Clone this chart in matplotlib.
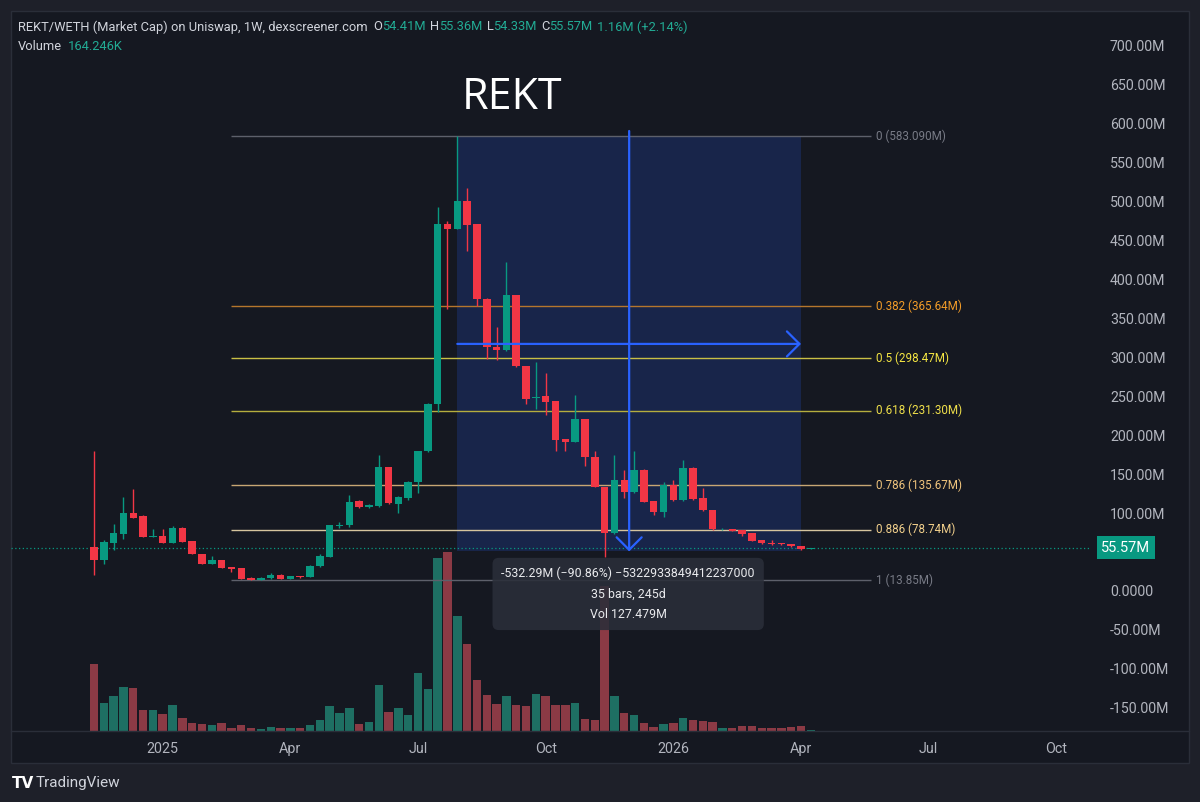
import matplotlib
matplotlib.use("Agg")
import matplotlib.pyplot as plt
import numpy as np
import pandas as pd
from matplotlib.patches import Rectangle
from matplotlib.lines import Line2D
from matplotlib.transforms import blended_transform_factory

plt.rcParams["font.family"] = ["Roboto", "DejaVu Sans"]

# weekly bars, first bar on this Monday
start_date = "2024-11-18"

opens = [57, 40, 62, 73, 99.5, 96, 69, 71, 62, 81, 64, 47, 34, 39.5, 31, 29, 16.7, 14.6, 16.3, 21,
         15.4, 19, 18, 32, 44, 84, 84.4, 115, 108, 109, 158.6, 112, 119, 140, 179, 240, 471, 464.5, 500, 471,
         375, 313.6, 309, 380, 288, 247, 250, 244, 194.6, 191.5, 220.7, 171.5, 133.7, 73.8, 142.3, 126.5, 155, 115, 101.5, 136,
         116.6, 158, 118.8, 103.7, 78.9, 79.7, 78, 74, 65, 62, 61, 60, 58, 54.41]
highs = [180, 65, 86, 120, 131, 97, 80, 80, 84, 82, 64, 47, 44.6, 40, 31, 29, 18, 18, 23, 22,
         19.5, 19.5, 33, 47, 85, 88, 123, 117, 112, 174, 159, 122, 141, 180, 241, 493, 474, 583.09, 517, 471,
         376, 339, 422, 380, 288, 294, 279, 244, 195, 251.5, 221, 180, 134, 174.4, 155, 180, 156, 116, 140, 143,
         168, 159, 131.6, 104, 80.5, 80, 78, 74, 65.5, 66, 62, 60.5, 58, 55.36]
lows = [21, 34, 52, 67, 93, 69, 69, 61, 62, 63, 47, 34, 34, 30, 24, 15, 13.85, 14, 16, 15,
        15, 17, 18, 31, 43, 81, 81.5, 107, 107, 108, 111, 99.5, 117, 126, 178, 229, 362, 464, 436, 365,
        297, 296.5, 308, 287, 240, 234, 226, 180, 179, 191, 160, 133, 43.7, 73, 118.8, 126, 114, 97, 95, 116,
        116, 117, 103, 78, 78.5, 76.5, 70.7, 64, 60.5, 59.5, 59, 57, 53, 54.33]
closes = [40, 63, 74, 99.5, 94, 69.4, 71, 62, 81, 63, 47, 34, 39.5, 30, 28, 16, 14.6, 17, 20.6, 16,
          19, 17.6, 32.6, 44.6, 84.4, 85, 114.4, 108, 110, 158.6, 112.3, 120, 140, 179.6, 240, 471, 464.5, 500, 470, 374,
          313.6, 309.4, 380, 288, 246, 249.4, 243, 194, 191.5, 220.7, 171.5, 133.7, 73.8, 142.3, 126.5, 155, 114.4, 101.5, 135.8, 116.6,
          158, 117.5, 103.7, 78.9, 79.5, 77, 73, 64.3, 61, 60, 60, 57.4, 54, 55.57]
volumes = [9.62, 4.05, 4.96, 6.29, 6.19, 2.96, 3.05, 2.39, 3.68, 1.86, 1.19, 0.96, 0.90, 1.19, 0.47, 0.82, 0.47, 0.24, 0.57, 0.39,
           0.47, 0.39, 0.82, 1.57, 3.58, 2.62, 3.33, 1.04, 1.24, 6.58, 2.76, 3.33, 2.25, 8.25, 6.01, 24.8, 25.6, 16.5, 12.4, 7.25,
           5.19, 3.86, 4.96, 3.76, 3.58, 5.29, 4.96, 3.72, 3.72, 3.96, 1.76, 1.53, 20.8, 5.0, 2.62, 2.33, 1.19, 0.61, 1.04, 1.14,
           1.82, 1.62, 1.43, 1.33, 0.47, 0.39, 0.67, 0.72, 0.47, 0.39, 0.39, 0.53, 0.72, 0.164]

fib_prices = [583.09, 365.64, 298.47, 231.30, 135.67, 78.74, 13.85]
fib_labels = ["0 (583.090M)", "0.382 (365.64M)", "0.5 (298.47M)", "0.618 (231.30M)",
              "0.786 (135.67M)", "0.886 (78.74M)", "1 (13.85M)"]
fib_line_colors = ["#5d606b", "#b5762c", "#c9bf45", "#b5ad3e", "#c7a673", "#d6c59e", "#5d606b"]
fib_text_colors = ["#787b86", "#f39c28", "#f5e642", "#f0e04a", "#f0c47c", "#f2d08c", "#787b86"]

range_top, range_bottom = 583.09, 50.80
range_bars = (37, 72)
tooltip_lines = ["-532.29M (\u221290.86%) \u22125322933849412237000", "35 bars, 245d", "Vol 127.479M"]
last_volume = "164.246K"
change_text = "1.16M (+2.14%)"

price_ticks = [700, 650, 600, 550, 500, 450, 400, 350, 300, 250, 200, 150, 100, 0, -50, -100, -150]

W, H = 1200, 802
BG_OUT = "#1e2029"
BG = "#151821"
UP, DOWN = "#089981", "#f23645"
UP_VOL, DOWN_VOL = "#1e6f63", "#8b3a45"
TXT = "#b2b5be"
BLUE = "#2962ff"


def px(x0, y0, x1, y1):
    return [x0 / W, 1 - y1 / H, (x1 - x0) / W, (y1 - y0) / H]


fig = plt.figure(figsize=(12, 8.02), dpi=100, facecolor=BG_OUT)
fig.add_artist(Rectangle((11 / W, 1 - 763 / H), 1178 / W, 752 / H, transform=fig.transFigure,
                         fc=BG, ec="#2a2e39", lw=1, zorder=0))
fig.add_artist(Line2D([11 / W, 1189 / W], [1 - 731 / H] * 2, color="#2a2e39", lw=1))

n = len(opens)
x = np.arange(n)
o, h, l, c = map(np.array, (opens, highs, lows, closes))
is_up = c >= o
xlim = (-8.45, 101.43)

# volume pane (behind price)
ax_vol = fig.add_axes(px(11, 11, 1090, 731))
ax_vol.set_facecolor("none")
ax_vol.bar(x, volumes, width=0.86, color=np.where(is_up, UP_VOL, DOWN_VOL))
ax_vol.set_xlim(*xlim)
ax_vol.set_ylim(0, 103)
ax_vol.axis("off")

ax = fig.add_axes(px(11, 11, 1090, 731))
ax.set_facecolor("none")
ax.set_xlim(*xlim)
ax.set_ylim(-179.6, 744.0)
for s in ax.spines.values():
    s.set_visible(False)

# candles
cols = np.where(is_up, UP, DOWN)
ax.vlines(x, l, h, colors=cols, lw=1, zorder=4)
ax.bar(x, np.maximum(np.abs(c - o), 1.2), bottom=np.minimum(o, c), width=0.76, color=cols, zorder=5)

# current price
ax.axhline(closes[-1], color=UP, lw=0.9, ls=(0, (1, 2)), zorder=2)

# fibonacci retracement
fib_x0, fib_x1 = 14, 79.1
for p, lab, lc, tc in zip(fib_prices, fib_labels, fib_line_colors, fib_text_colors):
    ax.hlines(p, fib_x0, fib_x1, colors=lc, lw=1, zorder=2)
    ax.text(fib_x1 + 0.5, p, lab, color=tc, fontsize=8.4, va="center", ha="left")

# date & price range tool
b0, b1 = range_bars
ax.add_patch(Rectangle((b0, range_bottom), b1 - b0, range_top - range_bottom,
                       fc=BLUE, alpha=0.19, ec="none", zorder=1))
mid_y = (range_top + range_bottom) / 2
mid_x = (b0 + b1) / 2
arrow = dict(arrowstyle="->,head_length=0.45,head_width=0.45", color=BLUE, lw=1.6,
             mutation_scale=20, shrinkA=0, shrinkB=0)
ax.annotate("", xy=(b1, mid_y), xytext=(b0, mid_y), arrowprops=arrow, zorder=6)
ax.annotate("", xy=(mid_x, range_bottom), xytext=(mid_x, range_top + 7), arrowprops=arrow, zorder=6)
ax.text(mid_x - 0.1, -3.8, "\n".join(tooltip_lines), ha="center", va="center", color="#e9eaed",
        fontsize=8.9, linespacing=1.75, zorder=7,
        bbox=dict(boxstyle="round,pad=0.72,rounding_size=0.5", fc="#2a2e39", ec="none", alpha=0.88))

# axes labels
dates = pd.date_range(start_date, "2026-12-31", freq="W-MON")
tick_idx = [i for i, d in enumerate(dates) if d.month in (1, 4, 7, 10) and d.day <= 7]
tick_lbl = [str(dates[i].year) if dates[i].month == 1 else dates[i].strftime("%b") for i in tick_idx]
ax.set_xticks(tick_idx)
ax.set_xticklabels(tick_lbl)
ax.tick_params(axis="x", length=0, pad=8, colors=TXT, labelsize=10.3)

ax.yaxis.tick_right()
ax.set_yticks(price_ticks)
ax.set_yticklabels(["0.0000" if t == 0 else f"{t:.2f}M" for t in price_ticks])
ax.tick_params(axis="y", length=0, pad=14.4, colors=TXT, labelsize=10.2)

tr = blended_transform_factory(ax.transAxes, ax.transData)
ax.text(1.0105, closes[-1], f"{closes[-1]:.2f}M", transform=tr, ha="left", va="center",
        color="white", fontsize=10.5, zorder=8,
        bbox=dict(boxstyle="square,pad=0.3", fc=UP, ec="none"))

# title
fig.text(512 / W, 1 - 98 / H, "REKT", fontsize=31, color="white", family="Open Sans",
         ha="center", va="center")

# legend header
renderer = fig.canvas.get_renderer()


def flow(y, parts, x0=18, size=9.3):
    xx = x0
    for s, col, gap in parts:
        t = fig.text(xx / W, 1 - y / H, s, color=col, fontsize=size, va="center", ha="left")
        xx = t.get_window_extent(renderer).x1 + gap


HDR = "#d1d4dc"
TEAL = "#22ab94"
flow(27, [("REKT/WETH (Market Cap) on Uniswap, 1W, dexscreener.com", HDR, 6),
          ("O", HDR, 0), (f"{opens[-1]:.2f}M", TEAL, 4),
          ("H", HDR, 0), (f"{highs[-1]:.2f}M", TEAL, 4),
          ("L", HDR, 0), (f"{lows[-1]:.2f}M", TEAL, 4),
          ("C", HDR, 0), (f"{closes[-1]:.2f}M", TEAL, 4),
          (change_text, TEAL, 0)])
flow(46, [("Volume", HDR, 6), (last_volume, TEAL, 0)])

fig.text(12 / W, 1 - 783 / H, "TV", fontsize=11, color="white", weight="heavy",
         family="DejaVu Sans", va="center")
fig.text(36 / W, 1 - 783 / H, "TradingView", fontsize=11, color=HDR, va="center")

fig.savefig("out.png", dpi=100, facecolor=BG_OUT)
